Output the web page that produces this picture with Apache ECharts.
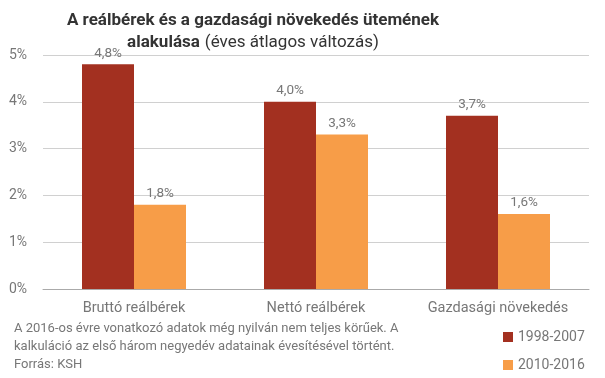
<!DOCTYPE html>
<html><head><meta charset="utf-8">
<script src="https://cdn.jsdelivr.net/npm/echarts@6/dist/echarts.min.js"></script>
<style>html,body{margin:0;padding:0;background:#fff}#c{width:605px;height:378px}</style>
</head><body><div id="c"></div>
<script>
const categories = ['Bruttó reálbérek', 'Nettó reálbérek', 'Gazdasági növekedés'];
const series1998 = [4.8, 4.0, 3.7];
const series2010 = [1.8, 3.3, 1.6];
const seriesNames = ['1998-2007', '2010-2016'];
const yTicks = [0, 1, 2, 3, 4, 5];

const chart = echarts.init(document.getElementById('c'));
const fontFam = 'Roboto, sans-serif';
const fmt = v => v.toFixed(1).replace('.', ',') + '%';
chart.setOption({
  animation: false,
  title: {
    text: '{b|A reálbérek és a gazdasági növekedés ütemének}\n{b|alakulása} {n|(éves átlagos változás)}',
    left: 248, top: 5, textAlign: 'center',
    textStyle: {
      rich: {
        b: { fontFamily: fontFam, fontSize: 17, fontWeight: 'bold', color: '#333', lineHeight: 22 },
        n: { fontFamily: fontFam, fontSize: 17, fontWeight: 'normal', color: '#333', lineHeight: 22 }
      }
    }
  },
  graphic: [{
    type: 'text', left: 14, top: 320,
    style: {
      text: 'A 2016-os évre vonatkozó adatok még nyilván nem teljes körűek. A\nkalkuláció az első három negyedév adatainak évesítésével történt.\nForrás: KSH',
      fill: '#777', font: '13px Roboto, sans-serif', lineHeight: 18
    }
  }],
  legend: {
    orient: 'vertical', left: 498, top: 325, itemWidth: 10, itemHeight: 10, itemGap: 14,
    icon: 'rect',
    textStyle: { color: '#777', fontSize: 14, fontFamily: fontFam },
    data: seriesNames
  },
  grid: { left: 43, right: 16, top: 55, height: 234 },
  xAxis: {
    type: 'category', data: categories,
    axisLine: { lineStyle: { color: '#aaa' } },
    axisTick: { show: false },
    axisLabel: { interval: 0, hideOverlap: false, color: '#777', fontSize: 14.5, fontFamily: fontFam, margin: 12 }
  },
  yAxis: {
    type: 'value', min: yTicks[0], max: yTicks[yTicks.length - 1], interval: 1,
    axisLabel: { color: '#777', fontSize: 14, fontFamily: fontFam, formatter: v => v + '%', margin: 16 },
    splitLine: { lineStyle: { color: '#d0d0d0' } },
    axisLine: { show: false }, axisTick: { show: false }
  },
  series: [
    { name: seriesNames[0], type: 'bar', data: series1998, barWidth: 52, barGap: '0%',
      itemStyle: { color: '#A33020' },
      label: { show: true, position: 'top', distance: 4, color: '#777', fontSize: 13.5, fontFamily: fontFam, formatter: p => fmt(p.value) } },
    { name: seriesNames[1], type: 'bar', data: series2010, barWidth: 52, barGap: '0%',
      itemStyle: { color: '#F79D48' },
      label: { show: true, position: 'top', distance: 4, color: '#777', fontSize: 13.5, fontFamily: fontFam, formatter: p => fmt(p.value) } }
  ]
});
</script></body></html>
